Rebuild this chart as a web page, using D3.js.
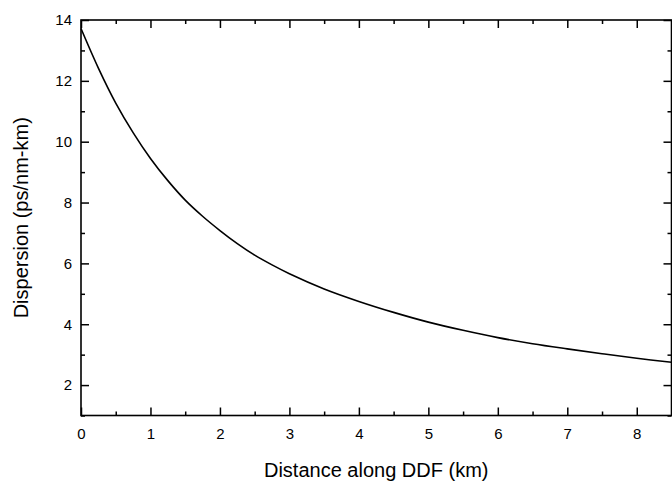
<!DOCTYPE html>
<html>
<head>
<meta charset="utf-8">
<script src="https://cdn.jsdelivr.net/npm/d3@7"></script>
<style>
  body { margin: 0; background: #fff; }
  svg { display: block; font-family: "Liberation Sans", Arial, sans-serif; }
</style>
</head>
<body>
<svg width="672" height="483"></svg>
<script>
// values
const distance = [0, 0.25, 0.5, 0.75, 1, 1.25, 1.5, 1.75, 2, 2.25, 2.5, 2.75, 3, 3.5, 4, 4.5, 5, 5.5, 6, 6.5, 7, 7.5, 8, 8.5];
const dispersion = [13.72, 12.42, 11.27, 10.3, 9.45, 8.72, 8.08, 7.55, 7.08, 6.65, 6.27, 5.95, 5.66, 5.16, 4.75, 4.39, 4.07, 3.8, 3.56, 3.36, 3.19, 3.03, 2.88, 2.75];
const xMajor = [0, 1, 2, 3, 4, 5, 6, 7, 8];
const xMinor = [0.5, 1.5, 2.5, 3.5, 4.5, 5.5, 6.5, 7.5];
const yMajor = [2, 4, 6, 8, 10, 12, 14];
const yMinor = [1, 3, 5, 7, 9, 11, 13];

const svg = d3.select('svg');
const pLeft = 81, pRight = 671.5, pTop = 20, pBottom = 415.5;

const x = d3.scaleLinear().domain([0, 8.5]).range([pLeft, pRight]);
const y = d3.scaleLinear().domain([1, 14]).range([pBottom, pTop]);

function tickAxis(axis, pos, size, vals, labels) {
  const g = svg.append('g')
    .attr('transform', pos)
    .call(axis.tickValues(vals).tickSizeInner(size).tickSizeOuter(0).tickPadding(10)
      .tickFormat(labels ? d3.format('d') : ''));
  g.select('.domain').remove();
  g.selectAll('line').attr('stroke', '#000').attr('stroke-width', 1.5);
  g.selectAll('text').attr('fill', '#000').style('font-size', '15px');
  return g;
}

// bottom
tickAxis(d3.axisBottom(x), `translate(0,${pBottom})`, -8, xMajor, true)
  .selectAll('text').attr('dy', '0.71em').attr('y', 13);
tickAxis(d3.axisBottom(x), `translate(0,${pBottom})`, -4, xMinor, false);
// top
tickAxis(d3.axisTop(x), `translate(0,${pTop})`, -8, xMajor, false);
tickAxis(d3.axisTop(x), `translate(0,${pTop})`, -4, xMinor, false);
// left
tickAxis(d3.axisLeft(y), `translate(${pLeft},0)`, -8, yMajor, true)
  .selectAll('text').attr('x', -9);
tickAxis(d3.axisLeft(y), `translate(${pLeft},0)`, -4, yMinor, false);
// right
tickAxis(d3.axisRight(y), `translate(${pRight},0)`, -8, yMajor, false);
tickAxis(d3.axisRight(y), `translate(${pRight},0)`, -4, yMinor, false);

// frame
svg.append('rect')
  .attr('x', pLeft).attr('y', pTop)
  .attr('width', pRight - pLeft).attr('height', pBottom - pTop)
  .attr('fill', 'none').attr('stroke', '#000').attr('stroke-width', 1.6);

const line = d3.line()
  .x((d, i) => x(distance[i]))
  .y(d => y(d))
  .curve(d3.curveCatmullRom.alpha(0.5));

svg.append('path')
  .datum(dispersion)
  .attr('d', line)
  .attr('fill', 'none')
  .attr('stroke', '#000')
  .attr('stroke-width', 1.6);

svg.append('text')
  .attr('x', (pLeft + pRight) / 2).attr('y', 477)
  .attr('text-anchor', 'middle')
  .style('font-size', '20px')
  .text('Distance along DDF (km)');

svg.append('text')
  .attr('transform', `translate(28,${(pTop + pBottom) / 2}) rotate(-90)`)
  .attr('text-anchor', 'middle')
  .style('font-size', '20px')
  .text('Dispersion (ps/nm-km)');
</script>
</body>
</html>
